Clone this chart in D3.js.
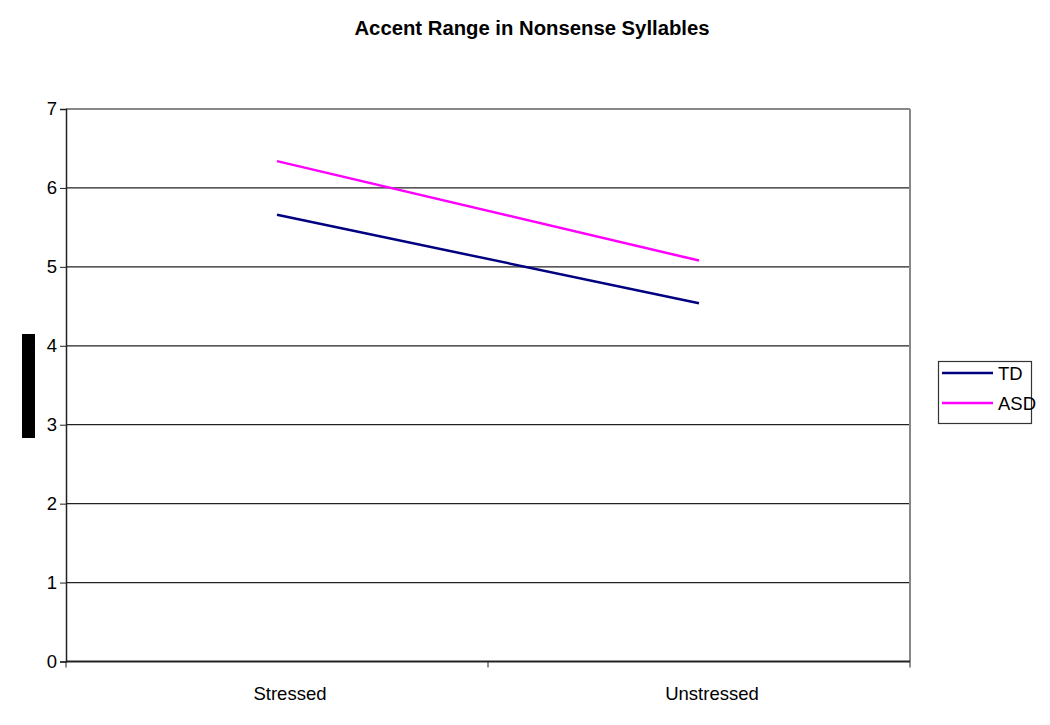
<!DOCTYPE html>
<html>
<head>
<meta charset="utf-8">
<script src="https://cdn.jsdelivr.net/npm/d3@7"></script>
<style>
  body { margin: 0; background: #fff; }
  text { font-family: "Liberation Sans", Arial, sans-serif; }
</style>
</head>
<body>
<div id="viz"></div>
<script>
var width = 1050;
var height = 725;

var categories = ["Stressed", "Unstressed"];
var seriesNames = ["TD", "ASD"];
var tdValues = [5.66, 4.54];
var asdValues = [6.34, 5.08];
var yTicks = [0, 1, 2, 3, 4, 5, 6, 7];
var colors = ["#000080", "#ff00ff"];

var plotLeft = 66, plotRight = 910, plotTop = 109, plotBottom = 661.5;

var svg = d3.select("#viz")
    .append("svg")
    .attr("width", width)
    .attr("height", height);

var x = d3.scaleBand()
    .domain(categories)
    .range([plotLeft, plotRight]);

var y = d3.scaleLinear()
    .domain([0, 7])
    .range([plotBottom, plotTop]);

// title
svg.append("text")
    .attr("x", 532)
    .attr("y", 35)
    .attr("text-anchor", "middle")
    .attr("font-size", 20.3)
    .attr("font-weight", "bold")
    .text("Accent Range in Nonsense Syllables");

// gridlines
svg.selectAll("line.grid")
    .data(yTicks.slice(1, -1))
    .enter()
    .append("line")
    .attr("class", "grid")
    .attr("x1", plotLeft)
    .attr("x2", plotRight)
    .attr("y1", d => y(d))
    .attr("y2", d => y(d))
    .attr("stroke", "#222")
    .attr("stroke-width", 1.2);

// plot frame (top and right grey)
svg.append("line")
    .attr("x1", plotLeft).attr("x2", plotRight)
    .attr("y1", y(7)).attr("y2", y(7))
    .attr("stroke", "#888").attr("stroke-width", 2);
svg.append("line")
    .attr("x1", plotRight).attr("x2", plotRight)
    .attr("y1", y(7)).attr("y2", plotBottom)
    .attr("stroke", "#888").attr("stroke-width", 2);

// y axis
var yAxis = d3.axisLeft(y)
    .tickValues(yTicks)
    .tickSize(6)
    .tickPadding(3)
    .tickFormat(d3.format("d"));

var gy = svg.append("g")
    .attr("transform", "translate(" + plotLeft + ",0)")
    .call(yAxis);
gy.select(".domain").attr("stroke", "#222").attr("stroke-width", 1.5);
gy.selectAll(".tick line").attr("stroke", "#222");
gy.selectAll(".tick text")
    .attr("font-size", 18.5)
    .attr("fill", "#000")
    .attr("font-family", "Liberation Sans, Arial, sans-serif");

// x axis
var gx = svg.append("g")
    .attr("transform", "translate(0," + plotBottom + ")");
gx.append("line")
    .attr("x1", plotLeft).attr("x2", plotRight)
    .attr("y1", 0).attr("y2", 0)
    .attr("stroke", "#222").attr("stroke-width", 2);
var xTickPos = [plotLeft].concat(categories.map(c => x(c) + x.bandwidth()));
gx.selectAll("line.tick")
    .data(xTickPos)
    .enter()
    .append("line")
    .attr("class", "tick")
    .attr("x1", d => d).attr("x2", d => d)
    .attr("y1", 0).attr("y2", 6)
    .attr("stroke", "#222");
gx.selectAll("text")
    .data(categories)
    .enter()
    .append("text")
    .attr("x", d => x(d) + x.bandwidth() / 2 + 13)
    .attr("y", 38)
    .attr("text-anchor", "middle")
    .attr("font-size", 18.5)
    .text(d => d);

// lines
var line = d3.line()
    .x((d, i) => x(categories[i]) + x.bandwidth() / 2)
    .y(d => y(d));

[tdValues, asdValues].forEach(function(vals, i) {
  svg.append("path")
      .datum(vals)
      .attr("d", line)
      .attr("fill", "none")
      .attr("stroke", colors[i])
      .attr("stroke-width", 2.5);
});

// redacted axis title block
svg.append("rect")
    .attr("x", 22).attr("y", 334)
    .attr("width", 13).attr("height", 104)
    .attr("fill", "#000");

// legend
var legend = svg.append("g");
legend.append("rect")
    .attr("x", 938.5).attr("y", 361.5)
    .attr("width", 93).attr("height", 62)
    .attr("fill", "#fff")
    .attr("stroke", "#333")
    .attr("stroke-width", 1.2);
seriesNames.forEach(function(name, i) {
  var ly = 373 + i * 30;
  legend.append("line")
      .attr("x1", 942).attr("x2", 993)
      .attr("y1", ly).attr("y2", ly)
      .attr("stroke", colors[i])
      .attr("stroke-width", 2.5);
  legend.append("text")
      .attr("x", 998)
      .attr("y", ly + 7)
      .attr("font-size", 18.5)
      .text(name);
});
</script>
</body>
</html>
